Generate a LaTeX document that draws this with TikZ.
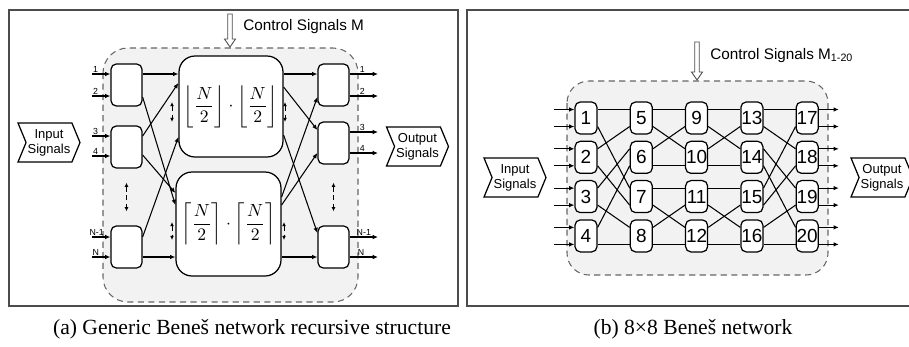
\documentclass[tikz,border=0pt]{standalone}
\usepackage{amsmath}
\usepackage[no-math]{fontspec}
\setmainfont{Liberation Serif}
\setsansfont{Liberation Sans}
\usetikzlibrary{shapes.symbols,arrows.meta,calc}

\tikzset{
  frame/.style={draw=black!70, line width=0.8pt},
  region/.style={draw=black!60, line width=0.6pt, dash pattern=on 3.5pt off 2.5pt,
    fill=black!5, rounded corners=0.5cm},
  swbox/.style={draw, fill=white, line width=0.7pt, rounded corners=3pt, inner sep=0pt,
    minimum width=0.62cm, minimum height=0.84cm},
  bigbox/.style={draw, fill=white, line width=0.7pt, rounded corners=0.32cm, inner sep=0pt},
  numbox/.style={draw, fill=white, line width=0.7pt, rounded corners=3pt, inner sep=0pt,
    minimum width=0.44cm, minimum height=0.64cm, font=\sffamily\fontsize{10.8}{12}\selectfont},
  iosig/.style={draw, fill=white, line width=0.7pt, shape=signal, signal from=west, signal to=east,
    signal pointer angle=135, minimum width=1.24cm, minimum height=0.78cm, inner sep=0pt,
    align=center, font=\sffamily\fontsize{7.4}{8.5}\selectfont},
  ctltext/.style={anchor=west, inner sep=0pt, font=\sffamily\fontsize{8.7}{10}\selectfont},
  ctl/.style={draw=black!70, fill=white, line width=0.5pt},
  sig/.style={line width=0.6pt, -{Latex[length=3pt,width=2.6pt]}},
  wire/.style={line width=0.6pt},
  dbl/.style={line width=0.5pt, densely dashed, {Latex[length=2.4pt,width=2.2pt]}-{Latex[length=2.4pt,width=2.2pt]}},
  port/.style={above, inner sep=0.6pt, font=\sffamily\fontsize{5}{5}\selectfont},
  caption/.style={font=\fontsize{12.3}{14}\selectfont}
}

\begin{document}
\begin{tikzpicture}[x=0.02cm, y=-0.02cm]
  \useasboundingbox (0,0) rectangle (909,346);

  % frames
  \draw[frame] (9,10) rectangle (458,306);
  \draw[frame] (467,10) rectangle (916,306);

  % (a) generic structure
  \draw[region] (103,48) rectangle (358,302);
  \draw[ctl] (227.7,14) -- (227.7,39) -- (224.5,39) -- (230,47) -- (235.5,39)
    -- (232.3,39) -- (232.3,14) -- cycle;
  \node[ctltext] (ctla) at (243,27) {Control Signals M};

  \node[iosig] (ina) at (49,142.5) {Input\\Signals};
  \node[iosig] (outa) at (417.5,146.5) {Output\\Signals};

  \node[swbox] (l1) at (126.5,85) {};
  \node[swbox] (l2) at (126.5,147) {};
  \node[swbox] (l3) at (126.5,247) {};
  \node[swbox] (r1) at (333.5,85) {};
  \node[swbox] (r2) at (333.5,143) {};
  \node[swbox] (r3) at (333.5,247) {};

  \node[bigbox, minimum width=2.08cm, minimum height=2.02cm] (top) at (231,106.5)
    {$\left\lfloor\dfrac{N}{2}\right\rfloor\cdot\left\lfloor\dfrac{N}{2}\right\rfloor$};
  \node[bigbox, minimum width=2.1cm, minimum height=2.08cm] (bot) at (228.5,224)
    {$\left\lceil\dfrac{N}{2}\right\rceil\cdot\left\lceil\dfrac{N}{2}\right\rceil$};

  % inputs and outputs
  \draw[sig] (92,74) -- node[port,pos=0.2]{1} (l1.west |- 0,74);
  \draw[sig] (92,96) -- node[port,pos=0.2]{2} (l1.west |- 0,96);
  \draw[sig] (92,136) -- node[port,pos=0.2]{3} (l2.west |- 0,136);
  \draw[sig] (92,156) -- node[port,pos=0.2]{4} (l2.west |- 0,156);
  \draw[sig] (92,237) -- node[port,pos=0.25]{N-1} (l3.west |- 0,237);
  \draw[sig] (92,257) -- node[port,pos=0.2]{N} (l3.west |- 0,257);
  \draw[sig] (r1.east |- 0,74) -- node[port,pos=0.45]{1} (378,74);
  \draw[sig] (r1.east |- 0,96) -- node[port,pos=0.45]{2} (378,96);
  \draw[sig] (r2.east |- 0,132) -- node[port,pos=0.45]{3} (378,132);
  \draw[sig] (r2.east |- 0,153) -- node[port,pos=0.45]{4} (378,153);
  \draw[sig] (r3.east |- 0,237) -- node[port,pos=0.5]{N-1} (378,237);
  \draw[sig] (r3.east |- 0,257) -- node[port,pos=0.4]{N} (378,257);

  % first stage
  \draw[sig] (l1.east |- 0,74) -- (top.west |- 0,74);
  \draw[sig] (l1.east |- 0,97) -- (bot.west |- 0,205);
  \draw[sig] (l2.east |- 0,136) -- (top.west |- 0,83);
  \draw[sig] (l2.east |- 0,155) -- (bot.west |- 0,193);
  \draw[sig] (l3.east |- 0,237) -- (top.west |- 0,137);
  \draw[sig] (l3.east |- 0,257) -- (bot.west |- 0,257);

  % last stage
  \draw[sig] (top.east |- 0,74) -- (r1.west |- 0,74);
  \draw[sig] (top.east |- 0,87) -- (r2.west |- 0,130);
  \draw[sig] (top.east |- 0,135) -- (r3.west |- 0,233);
  \draw[sig] (bot.east |- 0,197) -- (r1.west |- 0,97);
  \draw[sig] (bot.east |- 0,205) -- (r2.west |- 0,153);
  \draw[sig] (bot.east |- 0,257) -- (r3.west |- 0,257);

  % dots
  \draw[dbl] ($(l2.south)+(0,14)$) -- ($(l3.north)+(0,-14)$);
  \draw[dbl] ($(r2.south)+(0,18)$) -- ($(r3.north)+(0,-14)$);
  \draw[dbl] (172,102) -- (172,122);
  \draw[dbl] (172,222) -- (172,240);
  \draw[dbl] (285,102) -- (285,122);
  \draw[dbl] (284,222) -- (284,240);

  % (b) 8x8 network
  \draw[region, rounded corners=0.44cm] (567,81) rectangle (828,275);
  \draw[ctl] (694.7,42) -- (694.7,72) -- (691.5,72) -- (697,80) -- (702.5,72)
    -- (699.3,72) -- (699.3,42) -- cycle;
  \node[ctltext] (ctlb) at (710,56) {Control Signals M\textsubscript{1-20}};

  \node[iosig] (inb) at (515,177.5) {Input\\Signals};
  \node[iosig] (outb) at (882,177.5) {Output\\Signals};

  \foreach \n in {1,...,20} {
    \pgfmathtruncatemacro\col{(\n-1)/4}
    \pgfmathtruncatemacro\row{mod(\n-1,4)}
    \node[numbox] (s\n) at ({586+55.3*\col},{118+39.3*\row}) {\n};
  }

  \foreach \n in {1,...,4}
    \foreach \p in {-8.5,8.5}
      \draw[sig] ($(s\n.west)+(-20,\p)$) -- ($(s\n.west)+(0,\p)$);
  \foreach \n in {17,...,20}
    \foreach \p in {-8.5,8.5}
      \draw[sig] ($(s\n.east)+(0,\p)$) -- ($(s\n.east)+(20,\p)$);

  \foreach \a/\pa/\b/\pb in {1/-/5/-, 1/+/7/-, 2/-/5/+, 2/+/7/+, 3/-/6/-, 3/+/8/-, 4/-/6/+, 4/+/8/+,
      5/-/9/-, 5/+/10/-, 6/-/9/+, 6/+/10/+, 7/-/11/-, 7/+/12/-, 8/-/11/+, 8/+/12/+,
      9/-/13/-, 9/+/14/-, 10/-/13/+, 10/+/14/+, 11/-/15/-, 11/+/16/-, 12/-/15/+, 12/+/16/+,
      13/-/17/-, 13/+/18/-, 14/-/19/-, 14/+/20/-, 15/-/17/+, 15/+/18/+, 16/-/19/+, 16/+/20/+}
    \draw[wire] ($(s\a.east)+(0,\pa 8.5)$) -- ($(s\b.west)+(0,\pb 8.5)$);

  % captions
  \node[caption] (capa) at (252,329) {(a) Generic Beneš network recursive structure};
  \node[caption] (capb) at (693,329) {(b) 8×8 Beneš network};
\end{tikzpicture}
\end{document}
